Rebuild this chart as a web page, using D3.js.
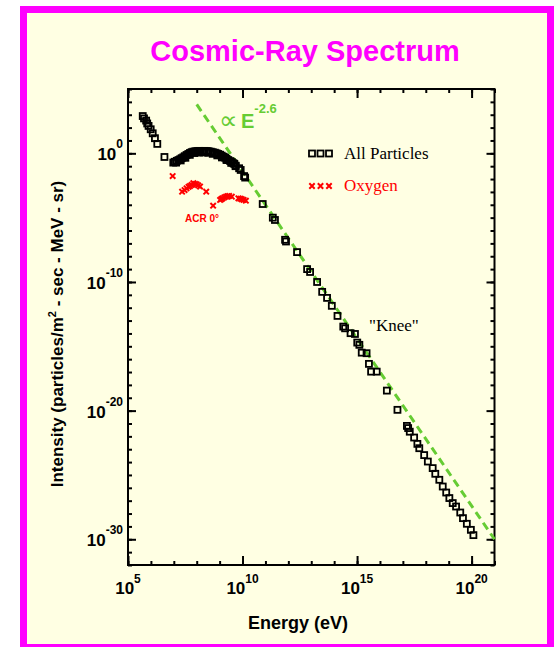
<!DOCTYPE html>
<html>
<head>
<meta charset="utf-8">
<script src="https://cdn.jsdelivr.net/npm/d3@7"></script>
<style>
  body { margin: 0; background: #fff; }
  svg { display: block; }
</style>
</head>
<body>
<svg id="chart" width="554" height="647"></svg>
<script>
// all particles (eV, particles/m2-sec-MeV-sr)
const allEnergy = [4.4e5, 5.0e5, 6.2e5, 6.9e5, 7.9e5, 9.8e5, 1.2e6, 1.5e6, 1.9e6, 3.9e6,
  9.5e6, 1.1e7, 1.35e7, 1.6e7, 1.9e7, 2.2e7, 2.6e7, 3.0e7, 3.6e7, 4.3e7,
  5.1e7, 6.0e7, 7.1e7, 8.7e7, 1.07e8, 1.3e8, 1.8e8, 2.2e8, 2.75e8, 3.3e8,
  4.1e8, 5.0e8, 6.2e8, 7.4e8, 8.7e8, 1.05e9, 1.23e9, 1.5e9, 1.74e9, 2.0e9,
  2.4e9, 2.9e9, 3.4e9, 4.0e9, 4.4e9, 5.0e9, 7.1e9, 8.3e9, 1.17e10, 1.3e10,
  7.6e10, 2.1e11, 2.6e11, 7.2e11, 7.9e11, 2.4e12, 6.6e12, 8.9e12, 1.8e13, 3.0e13,
  4.9e13, 7.9e13, 1.4e14, 2.5e14, 3.0e14, 5.2e14, 8.1e14, 1.02e15, 1.26e15, 1.6e15,
  2.6e15, 3.3e15, 4.1e15, 7.2e15, 2.0e16, 5.8e16, 1.5e17, 1.7e17, 2.0e17, 3.1e17,
  4.3e17, 5.2e17, 8.5e17, 1.23e18, 2.0e18, 2.6e18, 3.9e18, 5.5e18, 7.8e18, 1.07e19,
  1.5e19, 2.1e19, 3.2e19, 4.2e19, 6.2e19, 9.3e19, 1.2e20,
  1.26e7, 2.0e7, 3.2e7, 5.0e7, 7.9e7, 1.26e8, 2.0e8, 3.2e8, 5.0e8, 7.9e8,
  1.26e9, 2.0e9, 3.2e9, 5.0e9];
const allIntensity = [7.9e2, 5.2e2, 3.5e2, 2.1e2, 1.35e2, 74, 36, 15, 5.4, 0.52,
  0.19, 0.22, 0.26, 0.30, 0.35, 0.42, 0.49, 0.60, 0.74, 0.89,
  1.07, 1.23, 1.35, 1.45, 1.5, 1.55, 1.5, 1.55, 1.5, 1.45,
  1.35, 1.23, 1.12, 1.0, 0.89, 0.78, 0.66, 0.55, 0.46, 0.37,
  0.30, 0.25, 0.21, 0.17, 0.15, 0.11, 0.069, 0.051, 0.017, 0.013,
  1.15e-4, 1.0e-5, 6.6e-6, 1.9e-7, 1.4e-7, 2.1e-8, 1.0e-9, 6.0e-10, 1.0e-10, 1.7e-11,
  5.8e-12, 1.4e-12, 2.3e-13, 3.4e-14, 2.5e-14, 1.05e-14, 9.1e-15, 1.95e-15, 1.3e-15, 3.2e-16,
  2.9e-16, 4.3e-17, 1.07e-17, 1.07e-17, 3.6e-19, 1.15e-20, 6.5e-22, 4.4e-22, 2.3e-22, 8.1e-23,
  2.6e-23, 1.2e-23, 3.5e-24, 1.1e-24, 3.4e-25, 1.23e-25, 4.2e-26, 1.26e-26, 4.3e-27, 1.6e-27,
  6.5e-28, 3.5e-28, 1.2e-28, 4.4e-29, 1.6e-29, 5.4e-30, 2.1e-30,
  0.19, 0.28, 0.45, 0.76, 1.05, 1.15, 1.17, 1.1, 0.91, 0.69,
  0.48, 0.30, 0.18, 0.10];

// oxygen
const oxygenEnergy = [8.9e6, 2.3e7, 2.95e7, 3.6e7, 4.4e7, 5.1e7, 6.0e7, 7.1e7, 8.5e7, 1.0e8,
  1.17e8, 1.4e8, 2.6e8, 5.2e8, 1.05e9, 1.2e9, 1.35e9, 1.6e9, 1.9e9, 2.2e9,
  2.6e9, 3.4e9, 6.6e9, 7.9e9, 9.3e9, 1.12e10, 1.4e10];
const oxygenIntensity = [1.7e-2, 1.05e-3, 1.4e-3, 1.9e-3, 2.5e-3, 2.9e-3, 3.5e-3, 4.7e-3, 4.2e-3, 3.9e-3,
  3.2e-3, 2.6e-3, 1.05e-3, 8.5e-5, 2.4e-4, 2.8e-4, 3.2e-4, 3.8e-4, 4.3e-4, 4.7e-4,
  4.9e-4, 4.3e-4, 3.2e-4, 3.0e-4, 2.7e-4, 2.4e-4, 2.1e-4];

// E^-2.6 guide line
const fitEnergy = [1e8, 1e21];
const fitIntensity = [6.3e3, 1e-30];

const xMajorTicks = [1e5, 1e10, 1e15, 1e20];
const xTickExps = ["5", "10", "15", "20"];
const yMajorTicks = [1e0, 1e-10, 1e-20, 1e-30];
const yTickExps = ["0", "-10", "-20", "-30"];

const sans = "'Liberation Sans', Arial, Helvetica, sans-serif";
const serif = "'Liberation Serif', 'Times New Roman', serif";
const green = "#66cc33";

const svg = d3.select("#chart");

// frame
svg.append("rect").attr("x", 20).attr("y", 6).attr("width", 534).attr("height", 641).attr("fill", "#ff00ff");
svg.append("rect").attr("x", 27).attr("y", 13).attr("width", 520).attr("height", 631).attr("fill", "#ffffe3");

const plot = {left: 128, right: 494.5, top: 89, bottom: 565};

const x = d3.scaleLog().domain([1e5, 1e21]).range([plot.left, plot.right]);
const y = d3.scaleLog().domain([1e-32, 1e5]).range([plot.bottom, plot.top]);

const xMinor = d3.range(5, 22).map(e => Math.pow(10, e));
const yMinor = d3.range(-32, 6).map(e => Math.pow(10, e));

// axes, ticks point inward
function addAxis(axis, tx, ty) {
  const g = svg.append("g").attr("transform", `translate(${tx},${ty})`).call(axis);
  g.select(".domain").remove();
  g.selectAll("line").attr("stroke", "#000").attr("stroke-width", 2);
  g.selectAll("text").remove();
}
addAxis(d3.axisBottom(x).tickValues(xMinor).tickSize(-4), 0, plot.bottom);
addAxis(d3.axisBottom(x).tickValues(xMajorTicks).tickSize(-9), 0, plot.bottom);
addAxis(d3.axisTop(x).tickValues(xMinor).tickSize(-4), 0, plot.top);
addAxis(d3.axisTop(x).tickValues(xMajorTicks).tickSize(-9), 0, plot.top);
addAxis(d3.axisLeft(y).tickValues(yMinor).tickSize(-4), plot.left, 0);
addAxis(d3.axisLeft(y).tickValues(yMajorTicks).tickSize(-8), plot.left, 0);
addAxis(d3.axisRight(y).tickValues(yMinor).tickSize(-4), plot.right, 0);
addAxis(d3.axisRight(y).tickValues(yMajorTicks).tickSize(-8), plot.right, 0);

svg.append("rect")
  .attr("x", plot.left).attr("y", plot.top)
  .attr("width", plot.right - plot.left).attr("height", plot.bottom - plot.top)
  .attr("fill", "none").attr("stroke", "#000").attr("stroke-width", 2);

// tick labels
xMajorTicks.forEach((v, i) => {
  const t = svg.append("text")
    .attr("x", x(v)).attr("y", 594)
    .attr("text-anchor", "middle")
    .attr("font-family", sans).attr("font-weight", "bold").attr("font-size", 17);
  t.append("tspan").text("10");
  t.append("tspan").attr("dy", -11).attr("font-size", 12).text(xTickExps[i]);
});
yMajorTicks.forEach((v, i) => {
  const t = svg.append("text")
    .attr("x", 123).attr("y", y(v) + 7)
    .attr("text-anchor", "end")
    .attr("font-family", sans).attr("font-weight", "bold").attr("font-size", 17);
  t.append("tspan").text("10");
  t.append("tspan").attr("dy", -12).attr("font-size", 12).text(yTickExps[i]);
});

// titles
svg.append("text")
  .attr("x", 305).attr("y", 61)
  .attr("text-anchor", "middle")
  .attr("font-family", sans).attr("font-weight", "bold").attr("font-size", 29)
  .attr("fill", "#ff00ff")
  .text("Cosmic-Ray Spectrum");

svg.append("text")
  .attr("x", 298).attr("y", 629)
  .attr("text-anchor", "middle")
  .attr("font-family", sans).attr("font-weight", "bold").attr("font-size", 18)
  .text("Energy (eV)");

const yl = svg.append("text")
  .attr("transform", "translate(63,334) rotate(-90)")
  .attr("text-anchor", "middle")
  .attr("font-family", sans).attr("font-weight", "bold").attr("font-size", 17);
yl.append("tspan").text("Intensity (particles/m");
yl.append("tspan").attr("dy", -7).attr("font-size", 11).text("2");
yl.append("tspan").attr("dy", 7).text(" - sec - MeV - sr)");

// guide line
svg.append("path")
  .datum(d3.zip(fitEnergy, fitIntensity))
  .attr("fill", "none")
  .attr("stroke", green)
  .attr("stroke-width", 3)
  .attr("stroke-dasharray", "8,5")
  .attr("d", d3.line().x(d => x(d[0])).y(d => y(d[1])));

// proportional-to label
svg.append("text")
  .attr("x", 219).attr("y", 129)
  .attr("font-family", "'DejaVu Sans', sans-serif").attr("font-size", 26)
  .attr("fill", green).text("\u221D");
const pl = svg.append("text")
  .attr("x", 241).attr("y", 128)
  .attr("font-family", sans).attr("font-weight", "bold").attr("font-size", 20)
  .attr("fill", green);
pl.append("tspan").text("E");
pl.append("tspan").attr("dy", -15).attr("font-size", 13).text("-2.6");

// markers
const sq = 6;
function square(g, cx, cy) {
  g.append("rect")
    .attr("x", cx - sq / 2).attr("y", cy - sq / 2)
    .attr("width", sq).attr("height", sq)
    .attr("fill", "none").attr("stroke", "#000").attr("stroke-width", 1.8);
}
function cross(g, cx, cy) {
  const r = 2.7;
  g.append("path")
    .attr("d", `M${cx - r},${cy - r}L${cx + r},${cy + r}M${cx - r},${cy + r}L${cx + r},${cy - r}`)
    .attr("stroke", "#ff0000").attr("stroke-width", 2).attr("fill", "none");
}

const oxy = svg.append("g");
d3.zip(oxygenEnergy, oxygenIntensity).forEach(d => cross(oxy, x(d[0]), y(d[1])));

const all = svg.append("g");
d3.zip(allEnergy, allIntensity).forEach(d => square(all, x(d[0]), y(d[1])));

// legend
const leg = svg.append("g");
[312, 320.5, 329].forEach(cx => square(leg, cx, 153.5));
[312, 320.5, 329].forEach(cx => cross(leg, cx, 186));
svg.append("text").attr("x", 344).attr("y", 159)
  .attr("font-family", serif).attr("font-size", 17).text("All Particles");
svg.append("text").attr("x", 344).attr("y", 191)
  .attr("font-family", serif).attr("font-size", 17).attr("fill", "#ff0000").text("Oxygen");

// annotations
svg.append("text").attr("x", 185).attr("y", 222)
  .attr("font-family", sans).attr("font-weight", "bold").attr("font-size", 10)
  .attr("fill", "#ff0000").text("ACR 0\u00B0");
svg.append("text").attr("x", 369).attr("y", 331)
  .attr("font-family", serif).attr("font-size", 17).text("\"Knee\"");
</script>
</body>
</html>
